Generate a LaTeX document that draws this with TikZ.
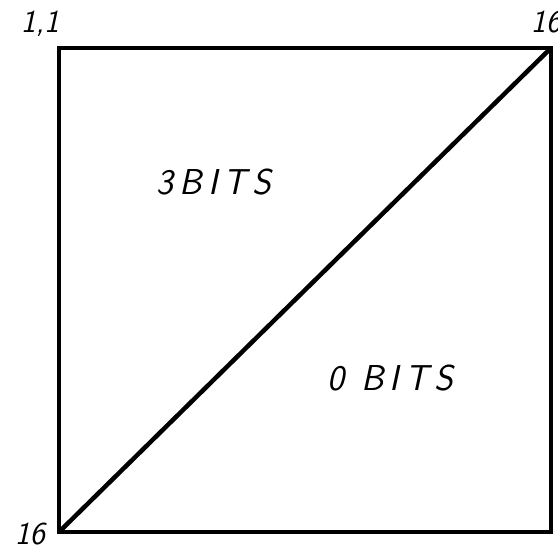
\documentclass[tikz,border=0pt]{standalone}
\usetikzlibrary{positioning}

\begin{document}
\begin{tikzpicture}[x=1pt,y=-1pt,line width=4.5pt,
 hand/.style={font=\fontsize{36}{36}\selectfont\sffamily\itshape,inner sep=0pt},
 corner/.style={hand,font=\fontsize{32}{32}\selectfont\sffamily\itshape}]
\useasboundingbox (0,0) rectangle (558,550);
% the square and its diagonal
\coordinate (tl) at (59,48);
\coordinate (br) at (551,532);
\coordinate (bl) at (59,532);
\coordinate (tr) at (551,48);
\draw (tl) rectangle (br);
\draw (bl) -- (tr);
% corner indices
\node[corner] (ul) at (40,24) {1,1};
\node[corner] (ur) at (546,22) {16};
\node[corner] (ll) at (30,534) {16};
% regions
\node[hand] (upper) at (214,182) {3\,B\,I\,T\,S};
\node[hand] (lower) at (390,378) {0 \,B\,I\,T\,S};
\end{tikzpicture}
\end{document}
